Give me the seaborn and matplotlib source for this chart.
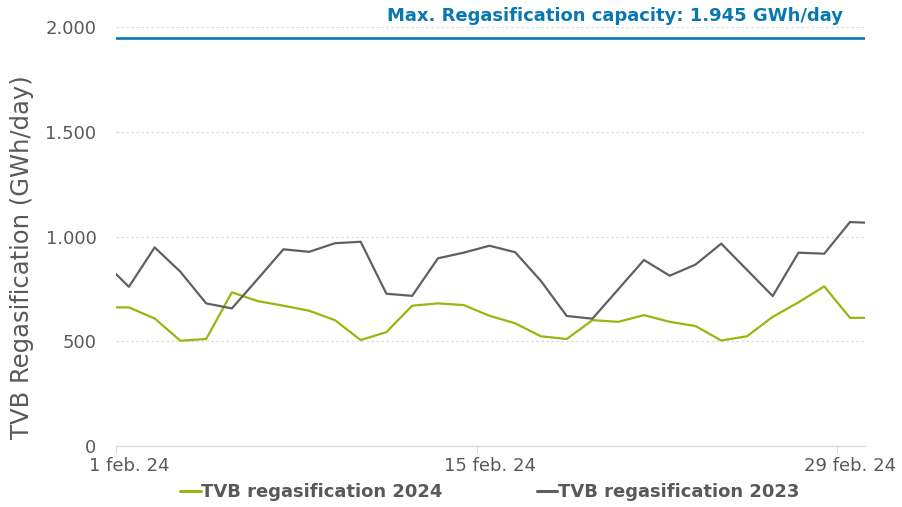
import matplotlib
matplotlib.use('Agg')
import matplotlib.pyplot as plt
import matplotlib.dates as mdates
import matplotlib.transforms as mtransforms
from matplotlib.lines import Line2D
from matplotlib.ticker import FuncFormatter
import pandas as pd
import seaborn as sns

# Daily values (noon timestamps), Jan 31 .. Mar 1 (edges clipped by the axis)
DATES = pd.date_range('2024-01-31 12:00', '2024-03-01 12:00', freq='D')
REGAS_2024 = [662, 662, 609, 503, 511, 734, 692, 670, 646, 601, 506, 544, 670, 681, 673, 622,
              586, 524, 511, 601, 593, 625, 593, 573, 504, 524, 617, 686, 762, 612, 612]
REGAS_2023 = [882, 760, 948, 832, 681, 657, 797, 939, 927, 968, 975, 727, 717, 896, 923, 956,
              925, 788, 621, 608, 748, 888, 813, 866, 966, 841, 716, 923, 918, 1069, 1064]
MAX_CAPACITY = 1945
TICK_DATES = ['2024-02-01', '2024-02-15', '2024-02-29']
TICK_LABELS = ['1 feb. 24', '15 feb. 24', '29 feb. 24']

GREEN, GREY, BLUE = '#95B80F', '#5E6064', '#0A78B0'
LABEL_2024, LABEL_2023 = 'TVB regasification 2024', 'TVB regasification 2023'

df = pd.concat([
    pd.DataFrame({'date': DATES, 'value': REGAS_2024, 'series': LABEL_2024}),
    pd.DataFrame({'date': DATES, 'value': REGAS_2023, 'series': LABEL_2023}),
])

sns.set_style('white')
plt.rcParams['font.family'] = ['DejaVu Sans']

fig, ax = plt.subplots(figsize=(9.02, 5.07), dpi=100)
fig.subplots_adjust(left=0.1286, right=0.959, top=0.947, bottom=0.12)

sns.lineplot(data=df, x='date', y='value', hue='series',
             palette={LABEL_2024: GREEN, LABEL_2023: GREY}, linewidth=1.6, ax=ax, legend=False)
ax.axhline(MAX_CAPACITY, color=BLUE, linewidth=1.9, zorder=3)

ax.set_xlim(pd.Timestamp('2024-02-01'), pd.Timestamp('2024-03-01 02:00'))
ax.set_ylim(0, 2000)
ax.set_yticks([0, 500, 1000, 1500, 2000])
ax.yaxis.set_major_formatter(FuncFormatter(lambda v, _: f'{int(v):,}'.replace(',', '.')))
ax.set_xticks([pd.Timestamp(d) for d in TICK_DATES])
ax.set_xticklabels(TICK_LABELS)

ax.grid(axis='y', color='#D9D9D9', linestyle=(0, (2, 2)), linewidth=0.9)
for side in ['top', 'right', 'left']:
    ax.spines[side].set_visible(False)
ax.spines['bottom'].set_color('#D9D9D9')
ax.tick_params(axis='x', colors='#D9D9D9', labelcolor='#595959', labelsize=13,
               length=5, direction='out', bottom=True, pad=3)
ax.tick_params(axis='y', labelcolor='#595959', labelsize=13, length=0, pad=14)

# labels sit half a day right of their tick
shift = mtransforms.ScaledTranslation(13 / 100, 0, fig.dpi_scale_trans)
for lbl in ax.get_xticklabels():
    lbl.set_transform(lbl.get_transform() + shift)

ax.set_xlabel('')
ax.set_ylabel('TVB Regasification (GWh/day)', fontsize=17.5, color='#595959', va='center')
ax.yaxis.set_label_coords(-0.125, 0.451)

ax.text(0.97, 1.005, f'Max. Regasification capacity: {MAX_CAPACITY:,} GWh/day'.replace(',', '.'),
        transform=ax.transAxes, ha='right', va='bottom', fontsize=13, fontweight='bold', color=BLUE)

handles = [Line2D([0], [0], color=GREEN, linewidth=2.2, label=LABEL_2024),
           Line2D([0], [0], color=GREY, linewidth=2.2, label=LABEL_2023)]
fig.legend(handles=handles, loc='lower center', ncol=2, frameon=False, bbox_to_anchor=(0.543, -0.02),
           prop={'size': 13, 'weight': 'bold'}, labelcolor='#595959', handlelength=1.15,
           handletextpad=0.05, columnspacing=5.2)

fig.savefig('out.png', dpi=100)
